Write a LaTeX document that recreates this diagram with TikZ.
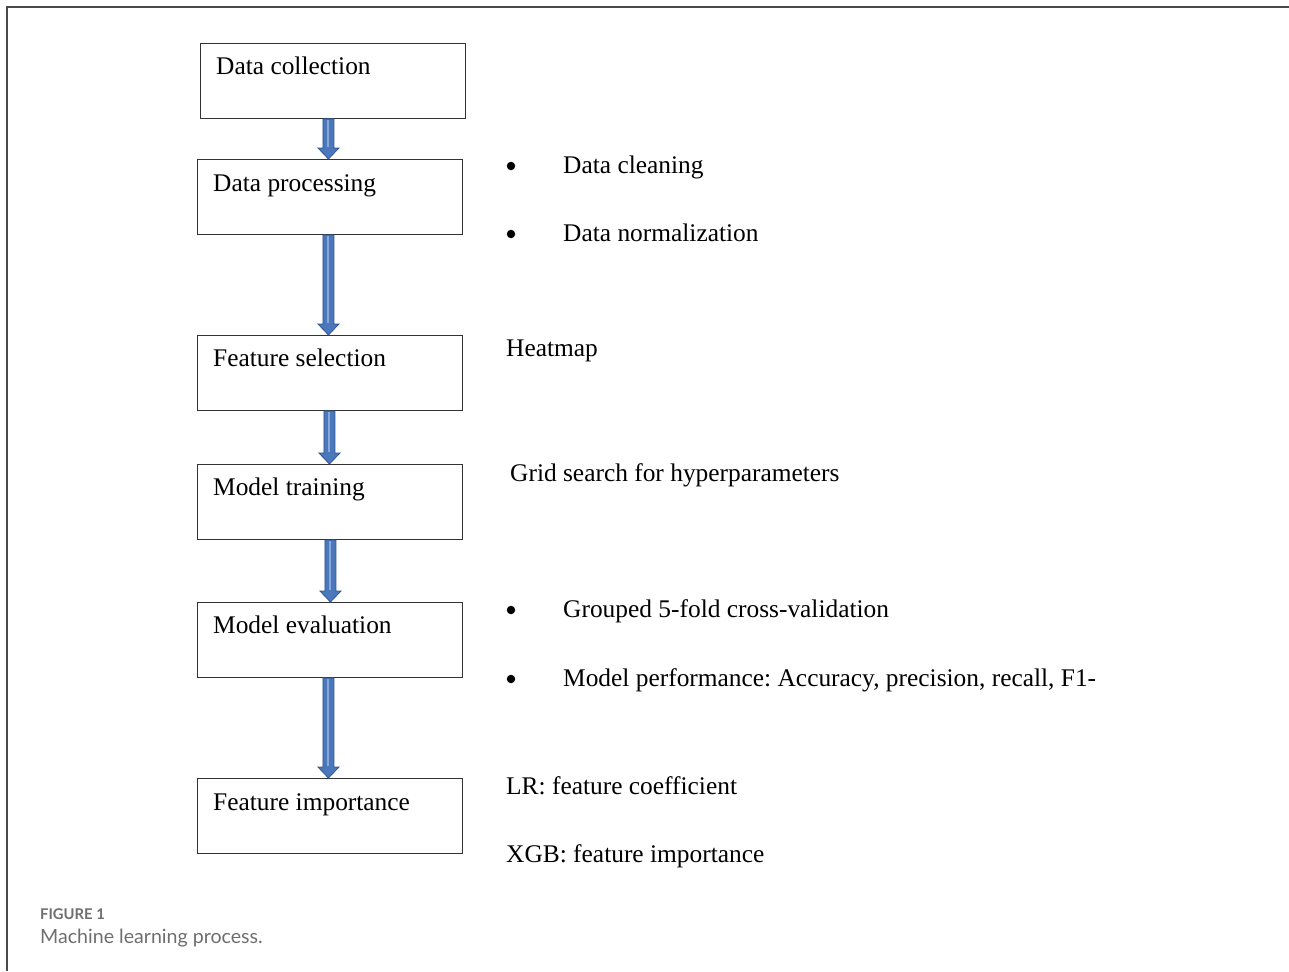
\documentclass[tikz,border=0pt]{standalone}
\usepackage{fontspec}
\setmainfont{Liberation Serif}
\newfontfamily\capfont{Lato}
\usetikzlibrary{calc}
\frenchspacing
\definecolor{arrfill}{HTML}{4A78BA}
\definecolor{arrdraw}{HTML}{2F5597}
\definecolor{arrlight}{HTML}{86A8DA}
\definecolor{capgray}{HTML}{6E6E6E}
\definecolor{framegray}{HTML}{4A4A4A}
\tikzset{
  stagebox/.style={draw=black!80, line width=0.9pt, minimum width=265pt, minimum height=75pt, inner sep=0pt, anchor=north west},
  stagetext/.style={anchor=base west, inner sep=0pt, font=\fontsize{25.4}{30}\selectfont},
  sidetext/.style={anchor=base west, inner sep=0pt, font=\fontsize{25.4}{30}\selectfont},
  bulletmark/.style={circle, fill=black, inner sep=0pt, minimum size=8.5pt},
  blockarrow/.style={fill=arrfill, draw=arrdraw, line width=0.8pt, line join=miter},
  arrowstripe/.style={draw=arrlight, line width=2pt},
}
% #1 from node, #2 to node, #3 horizontal shift of the arrow axis
\newcommand{\blockarr}[3]{%
  \path[blockarrow] let \p1=(#2.north), \p2=(#1.south), \p3=(#2.north) in
    (\x1+#3-5.5pt,\y2) -- (\x1+#3+5.5pt,\y2) -- (\x1+#3+5.5pt,\y3+11pt) -- (\x1+#3+10.5pt,\y3+11pt)
    -- (\x1+#3,\y3) -- (\x1+#3-10.5pt,\y3+11pt) -- (\x1+#3-5.5pt,\y3+11pt) -- cycle;
  \path[arrowstripe] let \p1=(#2.north), \p2=(#1.south), \p3=(#2.north) in
    (\x1+#3,\y2-1.5pt) -- (\x1+#3,\y3+12pt);
}
\begin{document}
\begin{tikzpicture}[x=1pt,y=-1pt]
\useasboundingbox (0,0) rectangle (1289,971);
% frame
\draw[framegray, line width=1.4pt] (7,971) -- (7,7) -- (1289,7);

% boxes
\node[stagebox] (b1) at (200,43) {};
\node[stagebox] (b2) at (197,159) {};
\node[stagebox] (b3) at (197,335) {};
\node[stagebox] (b4) at (197,464) {};
\node[stagebox] (b5) at (197,602) {};
\node[stagebox] (b6) at (197,778) {};

\node[stagetext] (t1) at (216,75) {Data collection};
\node[stagetext] (t2) at (213,191) {Data processing};
\node[stagetext] (t3) at (213,366) {Feature selection};
\node[stagetext] (t4) at (213,495) {Model training};
\node[stagetext] (t5) at (213,633) {Model evaluation};
\node[stagetext] (t6) at (213,810) {Feature importance};

% arrows
\blockarr{b1}{b2}{-1.5pt}
\blockarr{b2}{b3}{-1.5pt}
\blockarr{b3}{b4}{-0.5pt}
\blockarr{b4}{b5}{0.5pt}
\blockarr{b5}{b6}{-1.5pt}

% side notes
\node[bulletmark] (m1) at (511,166) {};
\node[sidetext] (s1) at (563,173) {Data cleaning};
\node[bulletmark] (m2) at (511,234) {};
\node[sidetext] (s2) at (563,241) {Data normalization};
\node[sidetext] (s3) at (506,356) {Heatmap};
\node[sidetext] (s4) at (510,481) {Grid search for hyperparameters};
\node[bulletmark] (m3) at (511,610) {};
\node[sidetext] (s5) at (563,617) {Grouped 5-fold cross-validation};
\node[bulletmark] (m4) at (511,679) {};
\node[sidetext] (s6) at (563,686) {Model performance: Accuracy, precision, recall, F1-};
\node[sidetext] (s7) at (506,794) {LR: feature coefficient};
\node[sidetext] (s8) at (506,862) {XGB: feature importance};

% caption
\node[anchor=base west, inner sep=0pt, text=capgray, font=\capfont\bfseries\fontsize{14.8}{16}\selectfont] (c1) at (40,919) {FIGURE 1};
\node[anchor=base west, inner sep=0pt, text=capgray, font=\capfont\fontsize{19.6}{22}\selectfont] (c2) at (40,943) {Machine learning process.};
\end{tikzpicture}
\end{document}
